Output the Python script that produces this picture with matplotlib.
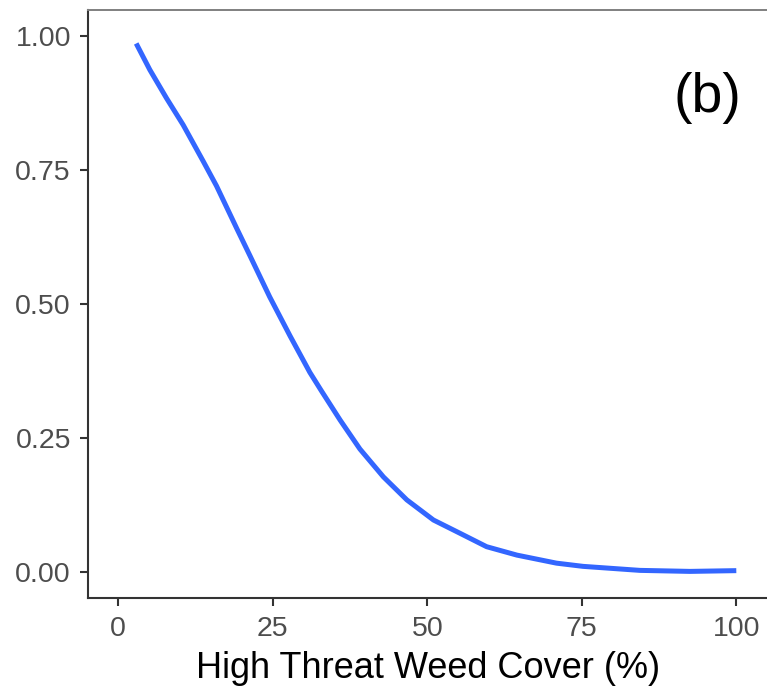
import numpy as np
import matplotlib
matplotlib.use("Agg")
import matplotlib.pyplot as plt

plt.rcParams['font.family'] = ['Liberation Sans', 'DejaVu Sans']

# fitted probability along high threat weed cover
cover = [2.9, 5.1, 7.8, 10.5, 13.75, 15.9, 19.2, 21.3, 24.5, 27.8, 31.0, 32.9,
         35.9, 39.1, 42.9, 46.7, 51.0, 55.3, 59.6, 64.5, 70.9, 75.2, 84.4,
         92.5, 100.0]
prob = [0.986, 0.937, 0.884, 0.834, 0.766, 0.720, 0.640, 0.590, 0.513, 0.440,
        0.372, 0.337, 0.283, 0.229, 0.177, 0.134, 0.0965, 0.0717, 0.0467,
        0.031, 0.016, 0.010, 0.0025, 0.0006, 0.002]

xticks = [0, 25, 50, 75, 100]
yticks = [0.00, 0.25, 0.50, 0.75, 1.00]
panel_tag = "(b)"

W, H = 767, 690
fig = plt.figure(figsize=(W / 100, H / 100), dpi=100)
left, right, top, bottom = 88.3, 767.2, 10.0, 597.7
ax = fig.add_axes([left / W, (H - bottom) / H, (right - left) / W, (bottom - top) / H])

ax.plot(cover, prob, color='#3366FF', lw=3.6, solid_capstyle='butt',
        solid_joinstyle='round')

ax.set_xlim(-4.85, 105)
ax.set_ylim(-0.0485, 1.0485)
ax.set_xticks(xticks)
ax.set_xticklabels([str(t) for t in xticks])
ax.set_yticks(yticks)
ax.set_yticklabels(["%.2f" % t for t in yticks])

for side in ['left', 'bottom']:
    ax.spines[side].set_color('#333333')
    ax.spines[side].set_linewidth(1.5)
ax.spines['top'].set_color('#808080')
ax.spines['top'].set_linewidth(1.4)
ax.spines['right'].set_visible(False)

ax.tick_params(axis='both', length=5.5, width=1.5, color='#333333',
               labelcolor='#4D4D4D', labelsize=20.5)
ax.tick_params(axis='x', pad=8)
ax.tick_params(axis='y', pad=7)

ax.set_xlabel("High Threat Weed Cover (%)", fontsize=26, color='black', labelpad=6)
ax.text(0.912, 0.827, panel_tag, transform=ax.transAxes, ha='center',
        va='baseline', fontsize=40, color='black')

fig.savefig("out.png", dpi=100)
